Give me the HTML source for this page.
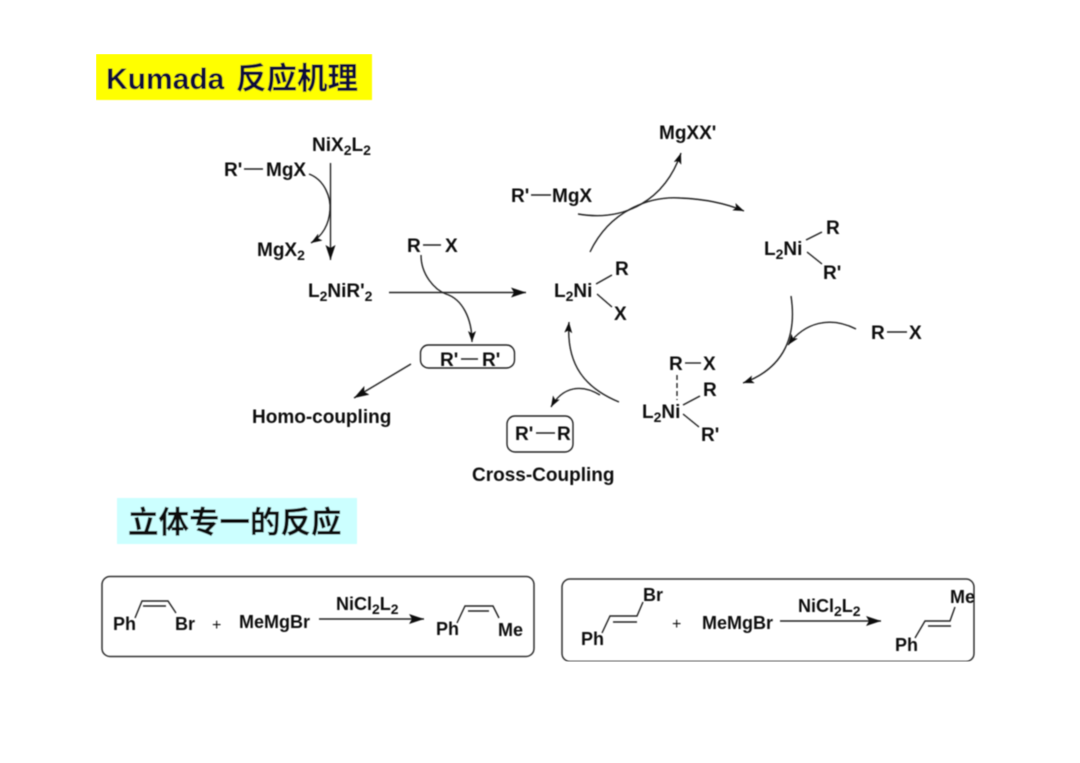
<!DOCTYPE html>
<html><head><meta charset="utf-8">
<style>
html,body{margin:0;padding:0;background:#fff;width:1080px;height:763px;overflow:hidden}
svg{display:block}
text{font-family:"Liberation Sans","Noto Sans CJK SC",sans-serif;font-weight:bold;fill:#111;font-size:19px}
tspan.s{font-size:14px}
.l{fill:none;stroke:#222;stroke-width:1.4}
.t{fill:none;stroke:#333;stroke-width:1.5}
.m text{font-size:18px}
</style></head><body>
<svg width="1080" height="763" viewBox="0 0 1080 763" xmlns="http://www.w3.org/2000/svg">
<defs>
<marker id="a" markerUnits="userSpaceOnUse" markerWidth="16" markerHeight="10" refX="15" refY="5" orient="auto"><path d="M0 0L15 5L0 10L3 5Z" fill="#111"/></marker>
<marker id="b" markerUnits="userSpaceOnUse" markerWidth="12" markerHeight="10" refX="11" refY="4" orient="auto"><path d="M0 0L11 4L0 8L2.500 4Z" fill="#111"/></marker>
<filter id="f" x="0" y="0" width="100%" height="100%"><feGaussianBlur stdDeviation="0.4"/></filter>
</defs>
<g filter="url(#f)">
<rect x="96" y="54" width="276" height="46" fill="#ffff00"/>
<text x="106" y="89" style="font-size:30px;fill:#10103a">Kumada</text>
<text x="236" y="89" style="font-size:30.500px;fill:#10103a">反应机理</text>
<rect x="117" y="498" width="240" height="46" fill="#ccffff"/>
<text x="128" y="533" style="font-size:30.500px;fill:#111">立体专一的反应</text>

<text x="312" y="151">NiX<tspan class="s" dy="4">2</tspan><tspan dy="-4">L</tspan><tspan class="s" dy="4">2</tspan></text>
<text x="224" y="176">R'</text><path class="l" d="M244 169H263"/><text x="266" y="176">MgX</text>
<path class="l" d="M330.500 163V260" marker-end="url(#a)"/>
<path class="l" d="M309 174C325 180 331 198 330 210C329 225 322 236 311 243" marker-end="url(#b)"/>
<text x="257" y="256">MgX<tspan class="s" dy="4">2</tspan></text>
<text x="308" y="297">L<tspan class="s" dy="4">2</tspan><tspan dy="-4">NiR'</tspan><tspan class="s" dy="4">2</tspan></text>
<path class="l" d="M389 292.500H526" marker-end="url(#a)"/>
<text x="407" y="252">R</text><path class="l" d="M423 245H441"/><text x="445" y="252">X</text>
<path class="l" d="M421 255C421 275 435 290 446 294C462 299 472 318 472 342" marker-end="url(#b)"/>
<rect class="l" x="420.500" y="345" width="94" height="23" rx="8"/>
<text x="440" y="366">R'</text><path class="l" d="M461 359H478"/><text x="482" y="366">R'</text>
<path class="l" d="M411 364L354 398" marker-end="url(#a)"/>
<text x="252" y="423">Homo-coupling</text>

<text x="659" y="139">MgXX'</text>
<path class="l" d="M578 214C625 222 665 200 681 153" marker-end="url(#b)"/>
<text x="511" y="202">R'</text><path class="l" d="M531 195H551"/><text x="552" y="202">MgX</text>
<path class="l" d="M590 252C610 210 650 196 680 198C705 199 725 203 744 211" marker-end="url(#b)"/>
<text x="764" y="255">L<tspan class="s" dy="4">2</tspan><tspan dy="-4">Ni</tspan></text>
<text x="826" y="234">R</text><text x="823" y="279">R'</text>
<path class="l" d="M806 240L822 232M807 252L822 264"/>
<text x="554" y="297">L<tspan class="s" dy="4">2</tspan><tspan dy="-4">Ni</tspan></text>
<text x="615" y="275">R</text><text x="614" y="320">X</text>
<path class="l" d="M596 284L612 275M597 294L612 307"/>
<path class="l" d="M791 296C797 335 785 368 743 383" marker-end="url(#b)"/>
<path class="l" d="M856 329C830 316 805 322 788 345" marker-end="url(#b)"/>
<text x="871" y="339">R</text><path class="l" d="M887 332H907"/><text x="909" y="339">X</text>
<text x="669" y="370">R</text><path class="l" d="M685 363H701"/><text x="703" y="370">X</text>
<path class="l" d="M677 375V400" stroke-dasharray="5 3"/>
<text x="703" y="396">R</text>
<text x="642" y="418">L<tspan class="s" dy="4">2</tspan><tspan dy="-4">Ni</tspan></text>
<text x="701" y="441">R'</text>
<path class="l" d="M683 405L700 396M683 414L699 427"/>
<path class="l" d="M619 402C585 388 566 365 569 322" marker-end="url(#b)"/>
<path class="l" d="M600 395C582 384 563 386 551 407" marker-end="url(#b)"/>
<rect class="l" x="507" y="416" width="66" height="36" rx="8"/>
<text x="515" y="440">R'</text><path class="l" d="M536 433H555"/><text x="557" y="440">R</text>
<text x="472" y="481">Cross-Coupling</text>

<g class="m">
<rect class="t" x="102" y="576.500" width="432" height="80" rx="8"/>
<text x="113" y="630">Ph</text><text x="175" y="630">Br</text>
<path class="l" d="M135 618L142 601H168L176 613M143 606H166"/>
<text x="212" y="630" style="font-weight:normal;font-size:16px">+</text>
<text x="239" y="628">MeMgBr</text>
<path class="l" d="M319 619H424" marker-end="url(#a)"/>
<text x="336" y="610">NiCl<tspan class="s" dy="4">2</tspan><tspan dy="-4">L</tspan><tspan class="s" dy="4">2</tspan></text>
<text x="436" y="635">Ph</text><text x="498" y="636">Me</text>
<path class="l" d="M457 623L465 606H493L499 618M468 611H489"/>

<rect class="t" x="562" y="579" width="412" height="82.500" rx="8"/>
<text x="643" y="601">Br</text><text x="581" y="645">Ph</text>
<path class="l" d="M602 633L610 616H637L643 602M613 622H637"/>
<text x="672" y="629" style="font-weight:normal;font-size:16px">+</text>
<text x="702" y="629">MeMgBr</text>
<path class="l" d="M780 621H881" marker-end="url(#a)"/>
<text x="798" y="612">NiCl<tspan class="s" dy="4">2</tspan><tspan dy="-4">L</tspan><tspan class="s" dy="4">2</tspan></text>
<text x="950" y="603">Me</text><text x="895" y="651">Ph</text>
<path class="l" d="M915 638L925 621H950L955 607M928 626H951"/>
</g>
</g>
</svg>
</body></html>
